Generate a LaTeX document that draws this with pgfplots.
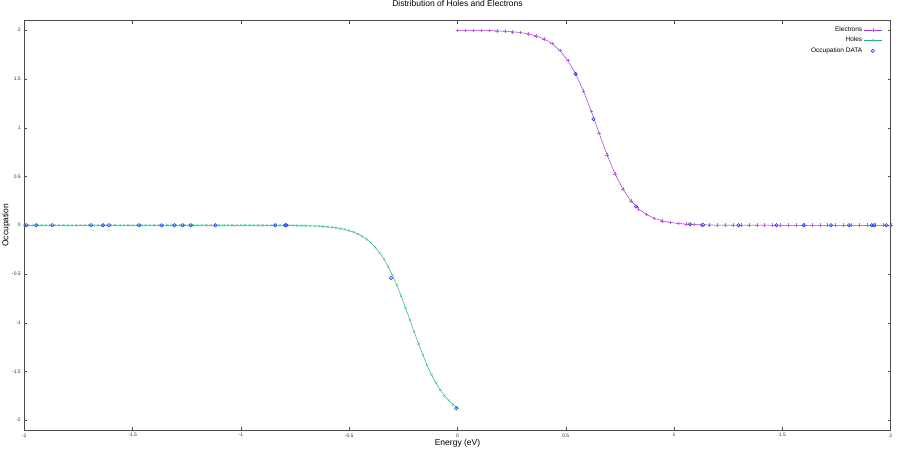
\documentclass[border=0pt]{standalone}
\usepackage{fontspec}
\setmainfont{Liberation Sans}
\usepackage{pgfplots}
\usepackage{pgfplotstable}
\pgfplotsset{compat=1.18}
\definecolor{elec}{RGB}{165,50,222}
\definecolor{elecmark}{RGB}{185,95,230}
\definecolor{hole}{RGB}{40,175,135}
\definecolor{holemark}{RGB}{80,195,160}
\definecolor{occ}{RGB}{30,60,255}

% electrons, E (eV) vs occupation
\pgfplotstableread{
E f
0.0000 1.9994
0.0364 1.9990
0.0727 1.9984
0.1091 1.9975
0.1455 1.9961
0.1818 1.9939
0.2182 1.9904
0.2545 1.9849
0.2909 1.9764
0.3273 1.9630
0.3636 1.9423
0.4000 1.9106
0.4364 1.8628
0.4727 1.7919
0.5091 1.6908
0.5455 1.5526
0.5818 1.3755
0.6182 1.1660
0.6545 0.9405
0.6909 0.7208
0.7273 0.5269
0.7636 0.3701
0.8000 0.2518
0.8364 0.1676
0.8727 0.1097
0.9091 0.0711
0.9455 0.0457
0.9818 0.0293
1.0182 0.0187
1.0545 0.0119
1.0909 0.0076
1.1273 0.0048
1.1636 0.0031
1.2000 0.0019
1.2364 0.0012
1.2727 0.0008
1.3091 0.0005
1.3455 0.0003
1.3818 0.0002
1.4182 0.0001
1.4545 0
1.4909 0
1.5273 0
1.5636 0
1.6000 0
1.6364 0
1.6727 0
1.7091 0
1.7455 0
1.7818 0
1.8182 0
1.8545 0
1.8909 0
1.9273 0
1.9636 0
2.0000 0
}\electrons

% holes
\pgfplotstableread{
E f
-2.00 0
-1.98 0
-1.96 0
-1.94 0
-1.92 0
-1.90 0
-1.88 0
-1.86 0
-1.84 0
-1.82 0
-1.80 0
-1.78 0
-1.76 0
-1.74 0
-1.72 0
-1.70 0
-1.68 0
-1.66 0
-1.64 0
-1.62 0
-1.60 0
-1.58 0
-1.56 0
-1.54 0
-1.52 0
-1.50 0
-1.48 0
-1.46 0
-1.44 0
-1.42 0
-1.40 0
-1.38 0
-1.36 0
-1.34 0
-1.32 0
-1.30 0
-1.28 0
-1.26 0
-1.24 0
-1.22 0
-1.20 0
-1.18 0
-1.16 0
-1.14 0
-1.12 0
-1.10 0
-1.08 0
-1.06 0
-1.04 0
-1.02 0
-1.00 0
-0.98 0
-0.96 0
-0.94 0
-0.92 -0.0003
-0.90 -0.0004
-0.88 -0.0005
-0.86 -0.0006
-0.84 -0.0008
-0.82 -0.0010
-0.80 -0.0013
-0.78 -0.0017
-0.76 -0.0022
-0.74 -0.0028
-0.72 -0.0036
-0.70 -0.0047
-0.68 -0.0060
-0.66 -0.0077
-0.64 -0.0098
-0.62 -0.0126
-0.60 -0.0161
-0.58 -0.0207
-0.56 -0.0264
-0.54 -0.0338
-0.52 -0.0432
-0.50 -0.0552
-0.48 -0.0703
-0.46 -0.0894
-0.44 -0.1133
-0.42 -0.1432
-0.40 -0.1802
-0.38 -0.2256
-0.36 -0.2807
-0.34 -0.3466
-0.32 -0.4241
-0.30 -0.5136
-0.28 -0.6147
-0.26 -0.7259
-0.24 -0.8451
-0.22 -0.9688
-0.20 -1.0935
-0.18 -1.2154
-0.16 -1.3309
-0.14 -1.4372
-0.12 -1.5326
-0.10 -1.6162
-0.08 -1.6878
-0.06 -1.7481
-0.04 -1.7982
-0.02 -1.8393
0.00 -1.8726
}\holes

% measured occupation
\pgfplotstableread{
E f
-1.991 0
-1.945 0
-1.871 0
-1.692 0
-1.637 0
-1.609 0
-1.471 0
-1.366 0
-1.306 0
-1.269 0
-1.232 0
-1.117 0
-0.841 0
-0.795 0
-0.791 0
-0.307 -0.540
-0.006 -1.877
0.545 1.553
0.628 1.090
0.824 0.193
1.073 0.010
1.134 0.005
1.297 0
1.473 0
1.599 0
1.724 0
1.807 0
1.913 0
1.923 0
1.980 0
}\occdata

\begin{document}
\begin{tikzpicture}
\useasboundingbox (0,0) rectangle (900pt,448pt);
\begin{axis}[
    at={(24.3pt,18pt)}, anchor=south west,
    scale only axis, width=866.4pt, height=409.5pt,
    xmin=-2, xmax=2, ymin=-2.1, ymax=2.1,
    xtick={-2,-1.5,-1,-0.5,0,0.5,1,1.5,2},
    xticklabels={-2,-1.5,-1,-0.5,0,0.5,1,1.5,2},
    ytick={-2,-1.5,-1,-0.5,0,0.5,1,1.5,2},
    yticklabels={-2,-1.5,-1,-0.5,0,0.5,1,1.5,2},
    tick align=inside, major tick length=3pt,
    tick style={black!70, line width=0.5pt},
    axis line style={black!70, line width=0.8pt},
    ticklabel style={font=\fontsize{5}{6}\selectfont, text=black!80},
    title={Distribution of Holes and Electrons},
    title style={at={(axis description cs:0.5,1.0281)}, anchor=center, font=\fontsize{8.5}{10}\selectfont},
    xlabel={Energy (eV)},
    xlabel style={at={(axis description cs:0.5,-0.0317)}, anchor=center, font=\fontsize{8.5}{10}\selectfont},
    ylabel={Occupation},
    ylabel style={at={(axis description cs:-0.0208,0.5)}, anchor=center, font=\fontsize{8.5}{10}\selectfont},
    legend plot pos=right,
    legend cell align=right,
    legend style={at={(axis description cs:0.9934,0.995)}, anchor=north east,
        draw=none, fill=none, font=\fontsize{6.5}{7.5}\selectfont, row sep=0.3pt},
]
\addplot[elec, line width=0.5pt, mark=+, mark size=1.8pt,
    mark options={draw=elecmark, line width=0.4pt}] table {\electrons};
\addlegendentry{Electrons}
\addplot[hole, line width=0.5pt, mark=x, mark size=1.6pt,
    mark options={draw=holemark, line width=0.4pt}] table {\holes};
\addlegendentry{Holes}
\addplot[occ, only marks, mark=o, mark size=1.7pt,
    mark options={draw=occ, line width=0.6pt}] table {\occdata};
\addlegendentry{Occupation DATA}
\end{axis}
\end{tikzpicture}
\end{document}
